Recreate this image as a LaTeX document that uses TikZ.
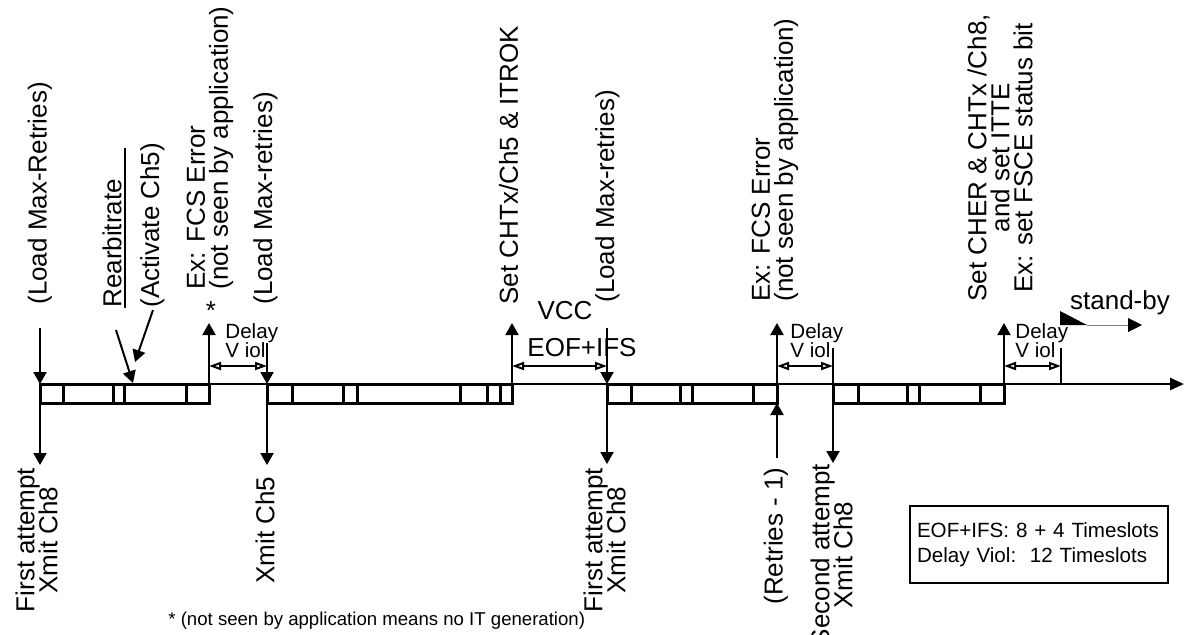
\documentclass[tikz,border=0pt]{standalone}
\usepackage{fontspec}
\setmainfont{Liberation Sans}
\usetikzlibrary{arrows.meta}
\newcommand{\tlfont}[2]{\fontsize{#1}{#2}\selectfont\lineskiplimit=-6pt\relax}

\begin{document}
\begin{tikzpicture}[x=0.5pt,y=-0.5pt,
  lbl/.style={rotate=90,anchor=west,inner sep=0pt,font={\tlfont{13}{11.5}}},
  txt/.style={inner sep=0pt,font={\tlfont{13}{14}}},
  sml/.style={inner sep=0pt,align=left,anchor=north west,font={\tlfont{10.3}{9.5}}},
  ev/.style={line width=1pt,-{Triangle[length=6pt,width=6.5pt]}},
  dim/.style={line width=1pt,
    {Triangle[open,length=6pt,width=4pt]}-{Triangle[open,length=6pt,width=4pt]}},
  slot/.style={line width=1.5pt}]
  \useasboundingbox (0,0) rectangle (1185,634);

  % time axis
  \draw[line width=0.6pt] (40,384) -- (1004,384);
  \draw[line width=1.3pt,-{Triangle[length=7pt,width=6pt]}] (1004,384) -- (1184,384);

  % frames and their slots
  \foreach \a/\b/\dl in {40/209/{63,113,124,186},
                         267/512/{292,343,357,460,487,500},
                         607/777/{631,680,692,753},
                         833/1004/{858,907,919,980}}{
    \draw[slot] (\a,384) rectangle (\b,403);
    \foreach \d in \dl
      \draw[slot] (\d,384) -- (\d,403);
  }

  % events on the axis
  \draw[ev] (40,328) -- (40,384);
  \draw[ev] (40,384) -- (40,465);
  \draw[ev] (209,384) -- (209,323);
  \draw[ev] (267,343) -- (267,384);
  \draw[ev] (267,384) -- (267,465);
  \draw[ev] (512,384) -- (512,323);
  \draw[ev] (607,328) -- (607,384);
  \draw[ev] (607,384) -- (607,464);
  \draw[ev] (777,384) -- (777,323);
  \draw[ev] (777,458) -- (777,403);
  \draw[line width=1pt] (833,348) -- (833,384);
  \draw[ev] (833,384) -- (833,463);
  \draw[ev] (1004,384) -- (1004,323);
  \draw[line width=1pt] (1061,348) -- (1061,384);

  % delays
  \draw[dim] (209,366) -- (267,366);
  \draw[dim] (512,366) -- (607,366);
  \draw[dim] (777,366) -- (833,366);
  \draw[dim] (1004,366) -- (1061,366);

  \node[sml] (dv1) at (225,323) {Delay\\V iol};
  \node[sml] (dv2) at (790,323) {Delay\\V iol};
  \node[sml] (dv3) at (1015,323) {Delay\\V iol};
  \node[txt] (eof) at (582,348) {EOF+IFS};
  \node[txt] (vcc) at (565,311) {VCC};
  \node[txt] (ast) at (211,311) {*};

  % top labels
  \node[lbl] (lmr1) at (40,305) {(Load Max-Retries)};
  \node[lbl] (rearb) at (112,308) {Rearbitrate};
  \draw[line width=0.8pt] (125,148) -- (125,308);
  \node[lbl] (act) at (152.5,308) {(Activate Ch5)};
  \draw[ev] (116,330) -- (133,383);
  \draw[ev] (153,310) -- (135,362);
  \node[lbl,align=left] (fcs1) at (210,290) {Ex: FCS Error\\(not seen by application)};
  \node[lbl] (lmr2) at (265.5,305) {(Load Max-retries)};
  \node[lbl] (setok) at (508.5,305) {Set CHTx/Ch5 \& ITROK};
  \node[lbl] (lmr3) at (607.5,303) {(Load Max-retries)};
  \node[lbl,align=left] (fcs2) at (775,302) {Ex: FCS Error\\(not seen by application)};
  \node[lbl,align=center,anchor=center] (cher) at (1000,158)
    {Set CHER \& CHTx /Ch8,\\and set ITTE\\Ex: set FSCE status bit};

  % stand-by
  \fill (1060,311) -- (1087,325) -- (1060,325) -- cycle;
  \draw[gray,line width=0.5pt,-{Triangle[black,length=7pt,width=7pt]}] (1087,325) -- (1142,325);
  \node[txt] (stby) at (1120,303) {stand-by};

  % bottom labels
  \node[lbl,align=center,anchor=center] (fa1) at (36.5,540) {First attempt\\Xmit Ch8};
  \node[lbl,anchor=center] (x5) at (265,530) {Xmit Ch5};
  \node[lbl,align=center,anchor=center] (fa2) at (604.5,540) {First attempt\\Xmit Ch8};
  \node[lbl,anchor=center] (retr) at (776,536) {(Retries - 1)};
  \node[lbl,align=center,anchor=center] (sa) at (831.5,555) {Second attempt\\Xmit Ch8};

  % legend and note
  \node[draw,line width=1pt,anchor=north west,inner xsep=3.5pt,text width=122pt,
    minimum height=38.5pt,align=left,font={\tlfont{10.3}{12.5}}] (key)
    at (909,505) {EOF+IFS: 8 + 4 Timeslots\\Delay Viol:\ \ 12 Timeslots};
  \node[inner sep=0pt,anchor=west,font={\tlfont{9.3}{11}}] (note)
    at (168,621) {* (not seen by application means no IT generation)};
\end{tikzpicture}
\end{document}
